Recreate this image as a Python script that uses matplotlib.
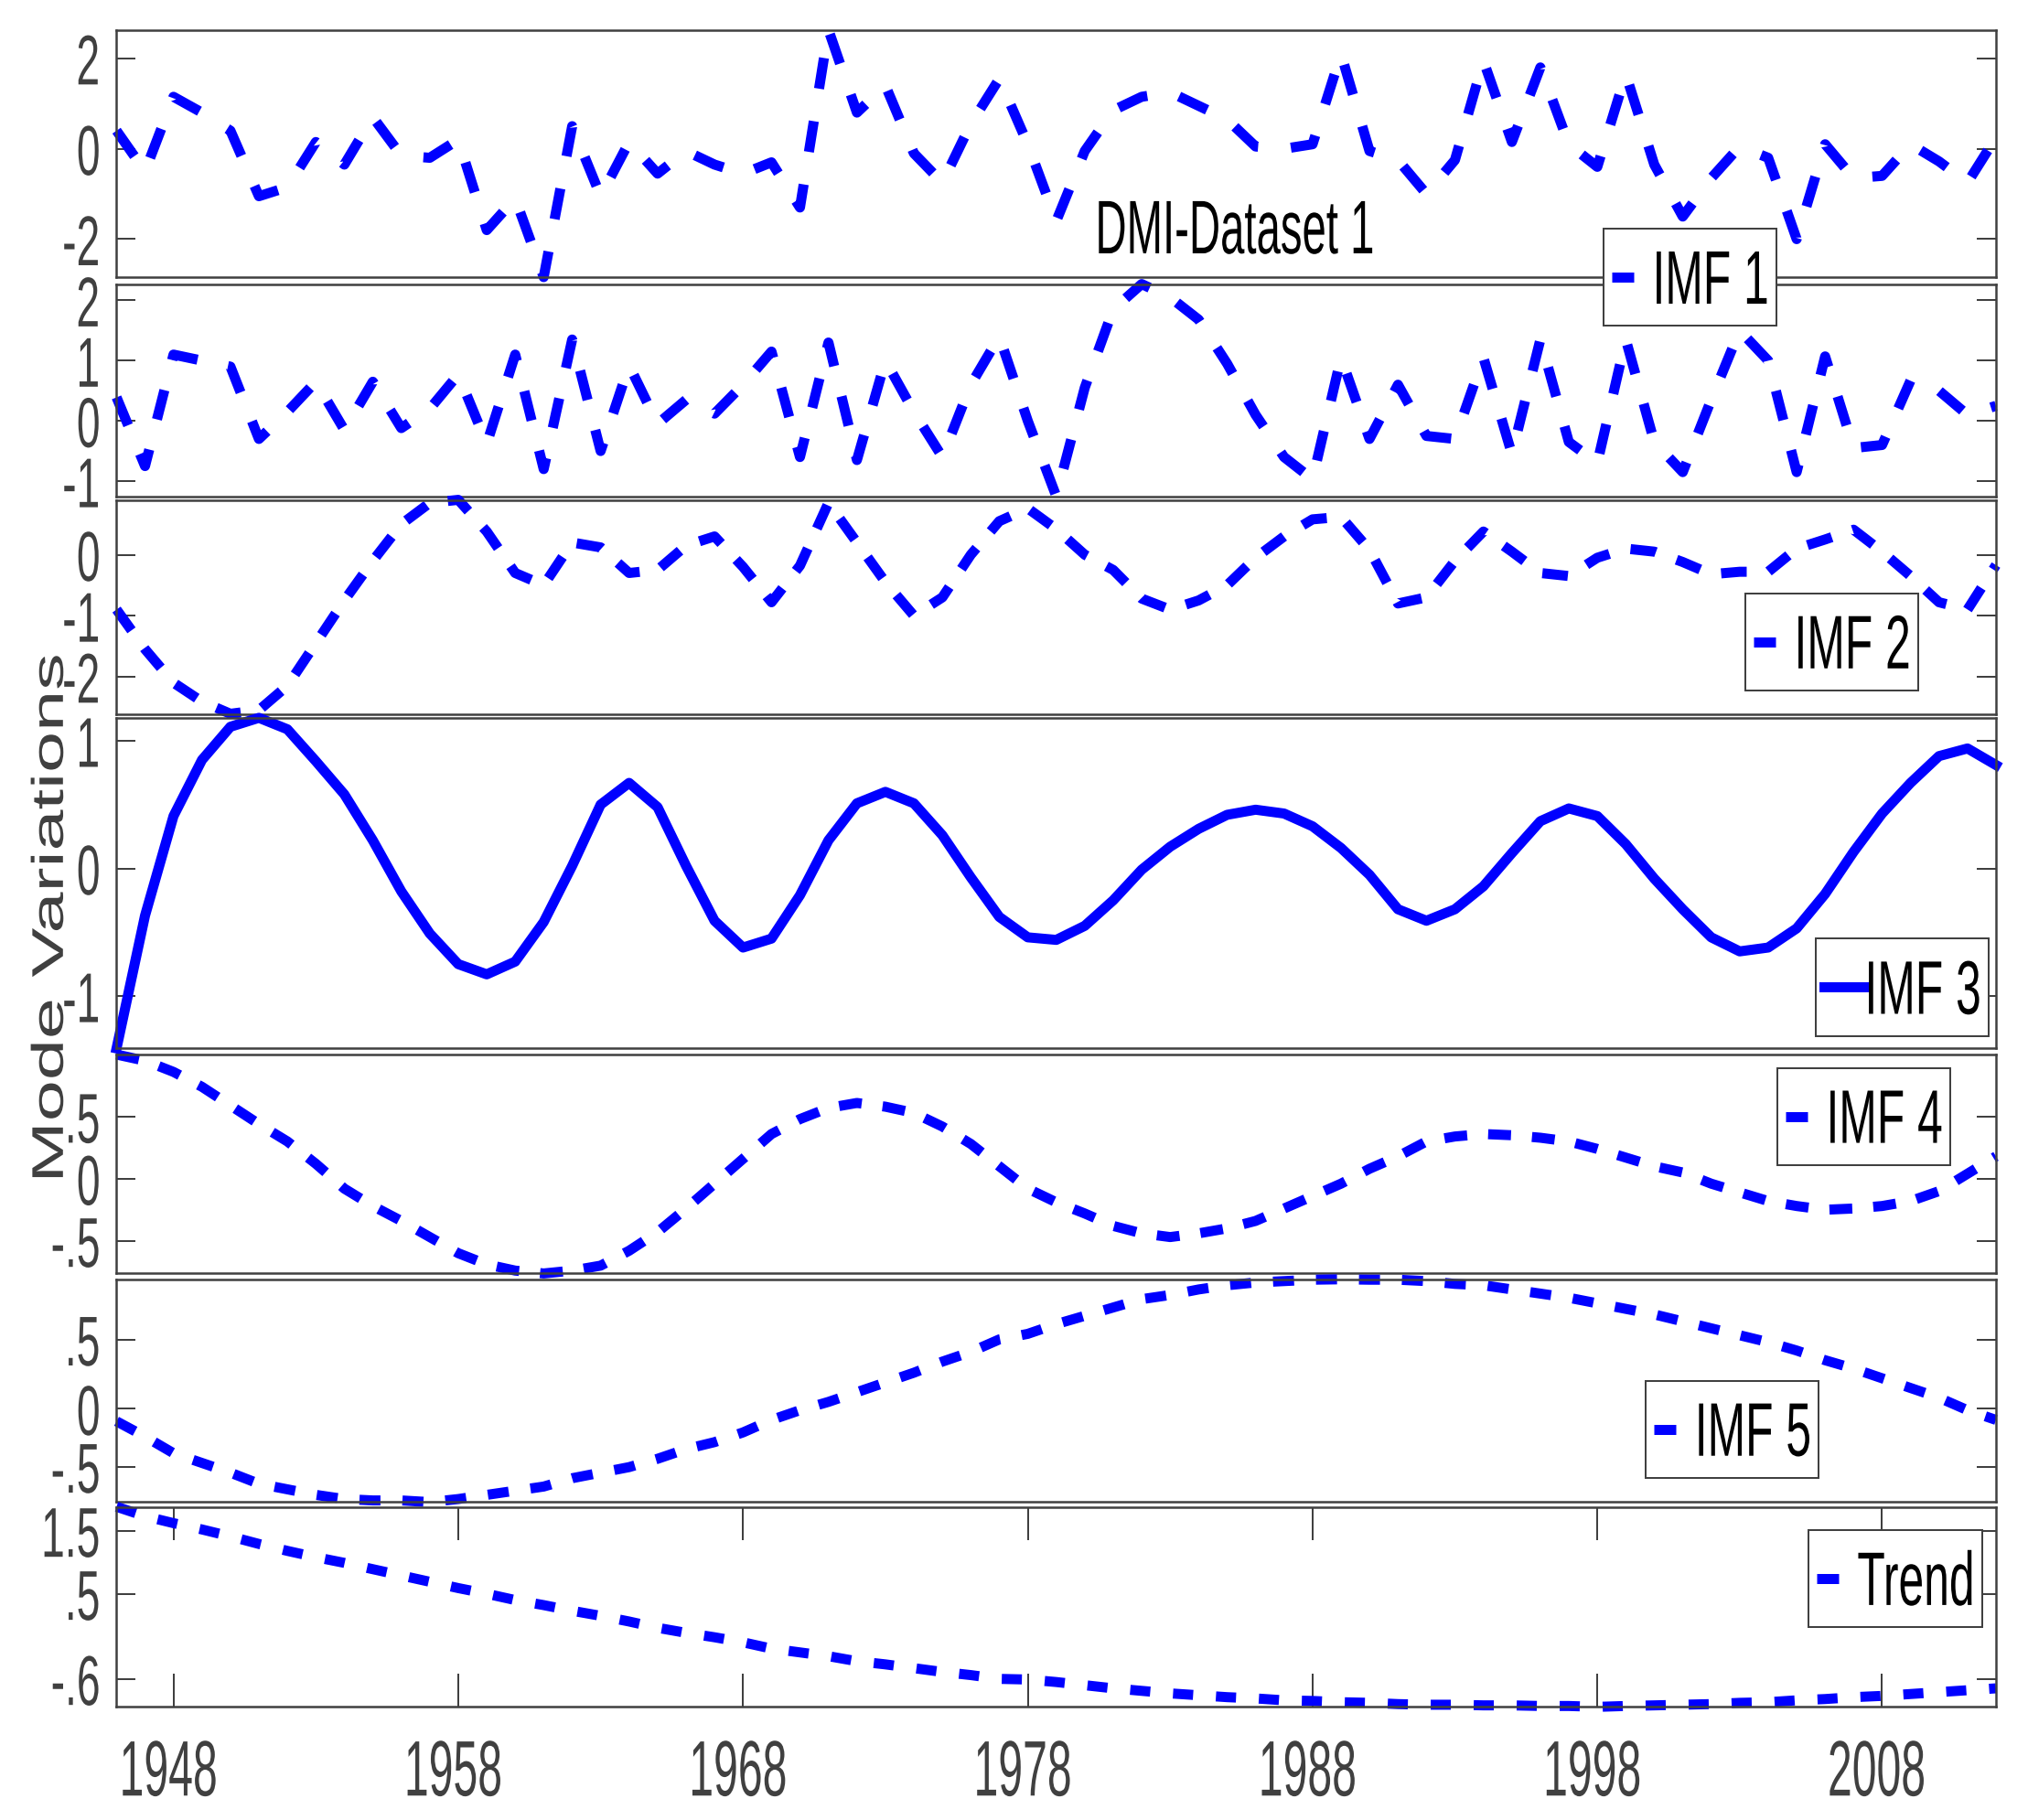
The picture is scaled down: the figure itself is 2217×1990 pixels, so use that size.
import matplotlib
matplotlib.use("Agg")
import matplotlib.pyplot as plt
import matplotlib.patheffects as pe
import numpy as np
from matplotlib.transforms import Affine2D

W, H, DPI = 2217, 1990, 72
GRAY = "#404040"
BLUE = "#0000ff"

years = np.arange(1946, 2013)
dmi = [0.4, -0.5, 1.15, 0.8, 0.4, -1.05, -0.85, 0.15, -0.35, 0.7,
       -0.15, -0.2, 0.2, -1.8, -1.1, -2.84, 0.5, -1.05, 0.15, -0.55,
       -0.05, -0.35, -0.55, -0.3, -1.3, 2.63, 0.8, 1.4, -0.1, -0.75,
       0.55, 1.55, 0.1, -1.6, -0.05, 0.85, 1.15, 1.25, 0.95, 0.65,
       0.05, 0.0, 0.1, 2.1, -0.05, -0.25, -1.0, -0.25, 1.95, 0.15,
       1.8, 0.1, -0.4, 1.65, -0.35, -1.5, -0.65, 0.05, -0.2, -2.0,
       0.1, -0.65, -0.6, 0.1, -0.28, -0.75, 0.25]
imf1 = [0.39, -0.75, 1.1, 1.0, 0.9, -0.3, 0.15, 0.65, -0.15, 0.65,
        -0.12, 0.2, 0.77, -0.38, 1.1, -0.8, 1.35, -0.5, 0.92, -0.05,
        0.35, 0.12, 0.6, 1.15, -0.6, 1.3, -0.65, 1.0, 0.15, -0.6,
        0.6, 1.4, 0.0, -1.25, 0.55, 1.85, 2.27, 2.05, 1.68, 0.95,
        0.1, -0.6, -0.97, 1.05, -0.3, 0.6, -0.25, -0.3, 1.05, -0.55,
        1.35, -0.35, -0.7, 1.35, -0.35, -0.85, 0.35, 1.5, 1.0, -0.85,
        1.07, -0.45, -0.4, 0.67, 0.5, 0.1, 0.25]
imf2 = [-0.9, -1.55, -2.1, -2.41, -2.61, -2.55, -2.15, -1.45, -0.75, -0.1,
        0.5, 0.85, 0.9, 0.38, -0.3, -0.5, 0.2, 0.12, -0.3, -0.25,
        0.15, 0.3, -0.2, -0.78, -0.18, 0.85, 0.2, -0.45, -1.0, -0.7,
        0.0, 0.55, 0.76, 0.42, 0.0, -0.25, -0.72, -0.9, -0.75, -0.5,
        -0.05, 0.3, 0.58, 0.62, 0.08, -0.8, -0.7, -0.1, 0.38, 0.05,
        -0.3, -0.35, -0.05, 0.1, 0.05, -0.12, -0.32, -0.28, -0.28, 0.1,
        0.25, 0.41, 0.05, -0.35, -0.78, -0.9, -0.17]
imf3 = [-1.41, -0.37, 0.41, 0.85, 1.11, 1.18, 1.09, 0.84, 0.58, 0.22,
        -0.18, -0.51, -0.75, -0.83, -0.73, -0.42, 0.02, 0.5, 0.67, 0.48,
        0.02, -0.41, -0.62, -0.55, -0.21, 0.22, 0.51, 0.6, 0.51, 0.26,
        -0.07, -0.38, -0.54, -0.56, -0.45, -0.25, -0.01, 0.17, 0.31, 0.42,
        0.46, 0.43, 0.33, 0.16, -0.05, -0.32, -0.41, -0.32, -0.14, 0.12,
        0.37, 0.47, 0.41, 0.19, -0.08, -0.32, -0.54, -0.65, -0.62, -0.47,
        -0.2, 0.13, 0.43, 0.67, 0.88, 0.94, 0.81]
imf4 = [1.0, 0.95, 0.86, 0.74, 0.59, 0.44, 0.3, 0.12, -0.08, -0.22,
        -0.34, -0.47, -0.6, -0.69, -0.74, -0.763, -0.74, -0.7, -0.58, -0.43,
        -0.24, -0.04, 0.16, 0.36, 0.48, 0.57, 0.61, 0.58, 0.53, 0.42,
        0.28, 0.1, -0.08, -0.19, -0.28, -0.38, -0.44, -0.47, -0.44, -0.4,
        -0.34, -0.24, -0.14, -0.04, 0.08, 0.18, 0.3, 0.34, 0.36, 0.35,
        0.33, 0.3, 0.24, 0.17, 0.1, 0.05, -0.04, -0.11, -0.18, -0.22,
        -0.25, -0.24, -0.22, -0.18, -0.1, 0.04, 0.18]
imf5 = [-0.09, -0.2, -0.32, -0.39, -0.46, -0.54, -0.58, -0.62, -0.65, -0.66,
        -0.66, -0.672, -0.65, -0.62, -0.59, -0.56, -0.5, -0.46, -0.42, -0.36,
        -0.29, -0.24, -0.17, -0.08, -0.01, 0.05, 0.12, 0.19, 0.26, 0.34,
        0.41, 0.5, 0.54, 0.61, 0.67, 0.73, 0.79, 0.82, 0.86, 0.89,
        0.91, 0.92, 0.93, 0.933, 0.93, 0.93, 0.92, 0.9, 0.89, 0.86,
        0.83, 0.8, 0.76, 0.72, 0.68, 0.63, 0.58, 0.53, 0.48, 0.42,
        0.35, 0.29, 0.22, 0.15, 0.08, -0.01, -0.08]
trend = [1.88, 1.73, 1.62, 1.52, 1.41, 1.29, 1.18, 1.08, 0.99, 0.89,
         0.79, 0.69, 0.59, 0.5, 0.4, 0.32, 0.23, 0.15, 0.06, -0.04,
         -0.12, -0.19, -0.27, -0.37, -0.43, -0.49, -0.57, -0.62, -0.68, -0.74,
         -0.79, -0.85, -0.86, -0.9, -0.95, -1.0, -1.04, -1.08, -1.11, -1.14,
         -1.16, -1.19, -1.2, -1.22, -1.23, -1.25, -1.26, -1.26, -1.27, -1.27,
         -1.28, -1.28, -1.294, -1.28, -1.27, -1.26, -1.25, -1.23, -1.22, -1.19,
         -1.17, -1.14, -1.12, -1.09, -1.06, -1.03, -1.0]

series = [dmi, imf1, imf2, imf3, imf4, imf5, trend]
labels = [None, "IMF 1", "IMF 2", "IMF 3", "IMF 4", "IMF 5", "Trend"]
ytick_values = [[2, 0, -2], [2, 1, 0, -1], [0, -1, -2], [1, 0, -1],
                [0.5, 0, -0.5], [0.5, 0, -0.416], [1.5, 0.5, -0.85]]
ytick_labels = [["2", "0", "-2"], ["2", "1", "0", "-1"], ["0", "-1", "-2"],
                ["1", "0", "-1"], [".5", "0", "-.5"], [".5", "0", "-.5"],
                ["1.5", ".5", "-.6"]]
xtick_years = [1948, 1958, 1968, 1978, 1988, 1998, 2008]
xtick_labels = [str(y) for y in xtick_years]
title = "DMI-Dataset 1"
ylabel = "Mode Variations"

# layout in pixels of the canvas, y measured from the top
LEFT, RIGHT = 127.4, 2182.0
panels = [(32.5, 303), (310.6, 542.7), (546.6, 780.6), (785, 1146.3),
          (1153.3, 1392.4), (1398.8, 1642.4), (1647.5, 1866.3)]
ylims = [(-2.84, 2.634), (-1.252, 2.27), (-2.612, 0.899), (-1.41, 1.179),
         (-0.763, 0.998), (-0.672, 0.933), (-1.294, 1.88)]
dashes = [(34, 36), (33, 34), (28, 24), None, (25, 23), (23, 24), (22, 25)]
legend_at = [None, (1942, 250), (2097, 648.7), (2174, 1026.4),
             (2132, 1167.5), (1988.3, 1509.6), (2167, 1672.8)]


class Squeeze(pe.AbstractPathEffect):
    """Narrow an artist horizontally in display space (the source is squeezed)."""

    def __init__(self, sx=0.6, anchor="center", pivot=None, shift=(0, 0)):
        super().__init__()
        self.sx, self.anchor, self.pivot, self.shift = sx, anchor, pivot, shift

    def draw_path(self, renderer, gc, tpath, affine, rgbFace=None):
        if self.pivot is None:
            x0, x1 = tpath.get_extents(affine).intervalx
            px = {"left": x0, "center": (x0 + x1) / 2, "right": x1}[self.anchor]
        else:
            px = self.pivot
        squeeze = (Affine2D().translate(-px, 0).scale(self.sx, 1)
                   .translate(px + self.shift[0], self.shift[1]))
        renderer.draw_path(gc, tpath, affine + squeeze, rgbFace)


plt.rcParams["font.family"] = ["Liberation Sans", "DejaVu Sans"]
plt.rcParams["lines.scale_dashes"] = False

fig = plt.figure(figsize=(W / DPI, H / DPI), dpi=DPI)
fig.patch.set_facecolor("white")

for i, (top, bottom) in enumerate(panels):
    ax = fig.add_axes([LEFT / W, 1 - bottom / H, (RIGHT - LEFT) / W, (bottom - top) / H])
    ls = "-" if dashes[i] is None else (0, dashes[i])
    ax.plot(years, series[i], color=BLUE, lw=11, ls=ls, label=labels[i], clip_on=False)
    ax.set_xlim(years[0], years[-1])
    ax.set_ylim(*ylims[i])
    ax.set_yticks(ytick_values[i], ytick_labels[i])
    ax.tick_params(axis="y", direction="in", left=True, right=True, length=21,
                   width=2, colors=GRAY, labelsize=77, pad=16.7)
    for sp in ax.spines.values():
        sp.set_color(GRAY)
        sp.set_linewidth(2.5)
    if i == len(panels) - 1:
        ax.set_xticks(xtick_years, xtick_labels)
        ax.tick_params(axis="x", direction="in", top=True, bottom=True, length=36,
                       width=2, colors=GRAY, labelsize=86, pad=35)
        for lab in ax.get_xticklabels():
            lab.set_path_effects([Squeeze(0.56, "center", shift=(-6, 0))])
    else:
        ax.set_xticks([])
    for lab in ax.get_yticklabels():
        lab.set_path_effects([Squeeze(0.6, "right")])

    if labels[i]:
        r, t = legend_at[i]
        leg = ax.legend(loc="upper right", bbox_to_anchor=(r / W, 1 - t / H),
                        bbox_transform=fig.transFigure, borderaxespad=0,
                        fontsize=83, handlelength=0.9, handletextpad=0.0,
                        borderpad=0.17, fancybox=False, framealpha=1,
                        edgecolor=GRAY)
        leg.get_frame().set_linewidth(2)
        leg.get_frame().set_path_effects([Squeeze(0.6, pivot=r)])
        for h in leg.legend_handles:
            if dashes[i] is not None:
                h.set_dashes([24, 23])
            h.set_path_effects([Squeeze(0.6, pivot=r, shift=(0, -7))])
        for txt in leg.get_texts():
            txt.set_path_effects([Squeeze(0.6, pivot=r, shift=(0, -7))])

fig.text(1349 / W, 1 - 277 / H, title, ha="center", va="baseline", fontsize=83,
         color="black", path_effects=[Squeeze(0.57, "center")])
fig.text(59.4 / W, 1 - 1004 / H, ylabel, rotation=90, ha="center", va="center",
         fontsize=81, color=GRAY, path_effects=[Squeeze(0.6, "center")])

fig.savefig("out.png", dpi=DPI, facecolor="white")
